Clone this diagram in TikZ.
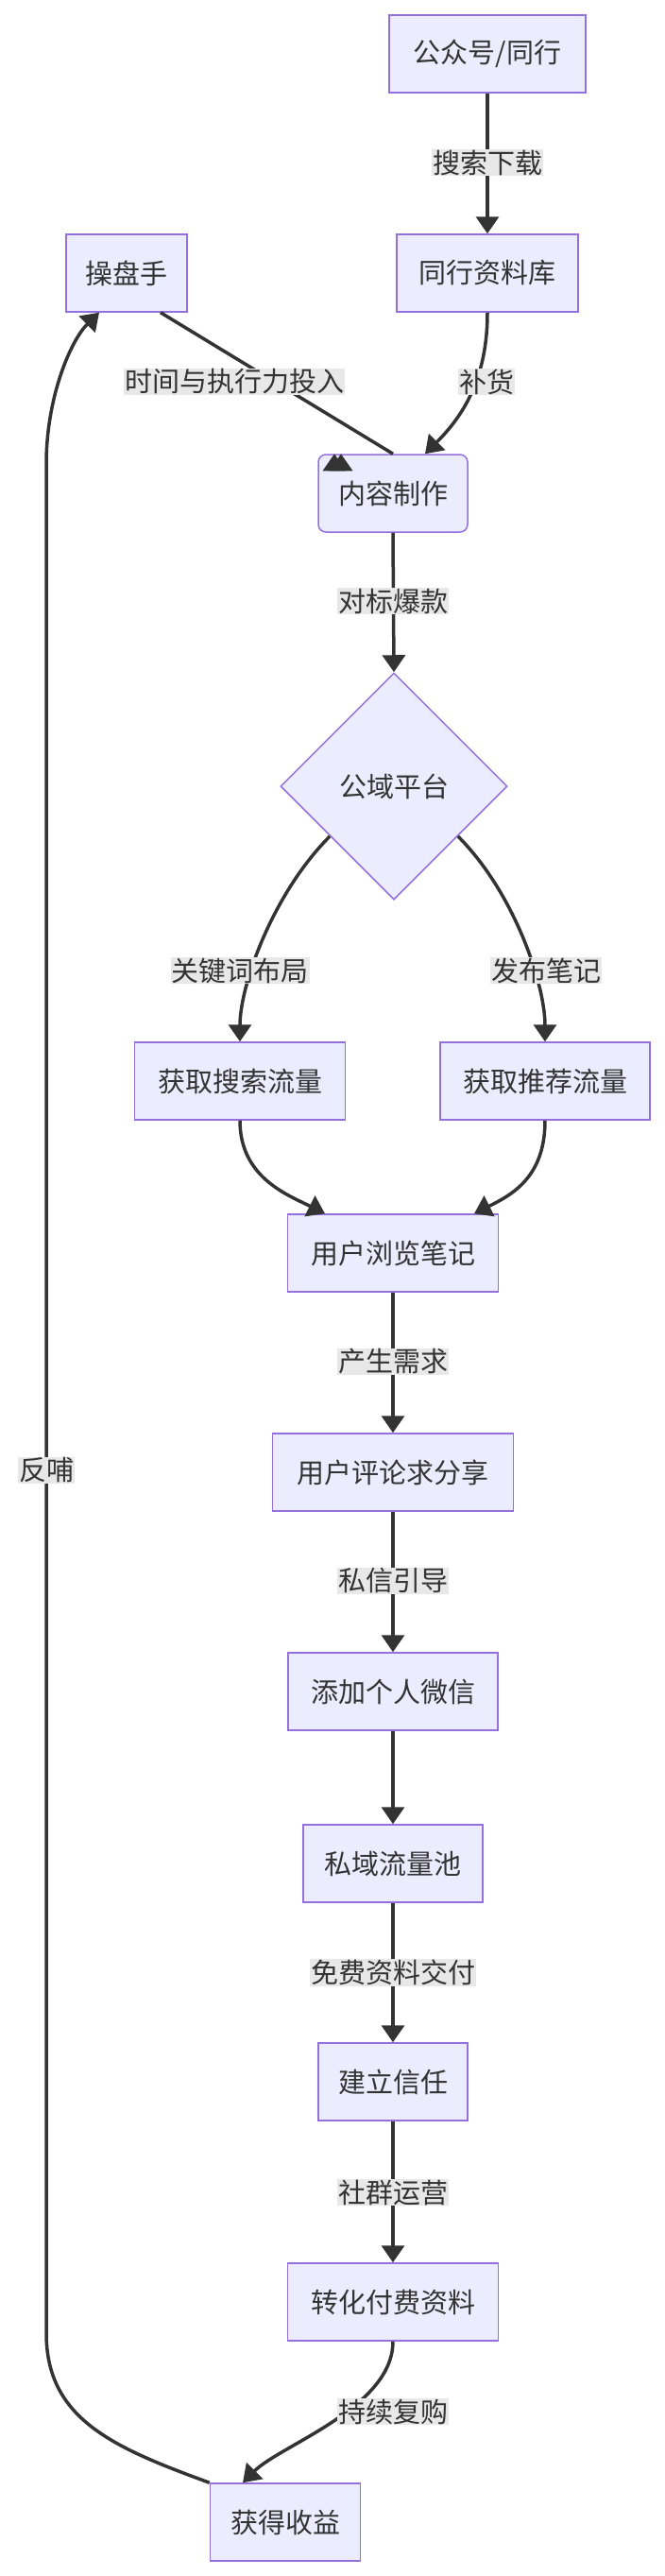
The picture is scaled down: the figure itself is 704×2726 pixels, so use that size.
\documentclass[tikz,border=0pt]{standalone}
\usepackage{fontspec}
\setmainfont{Noto Sans CJK SC}
\usetikzlibrary{shapes.geometric,arrows.meta}
\definecolor{nfill}{HTML}{ECECFF}
\definecolor{nborder}{HTML}{9370DB}
\definecolor{lbg}{HTML}{E8E8E8}
\definecolor{ink}{HTML}{333333}
\begin{document}
\begin{tikzpicture}[x=1pt,y=-1pt,
  box/.style={draw=nborder,fill=nfill,line width=1.5pt,text=ink,font=\fontsize{29}{32}\selectfont,inner sep=0pt,minimum height=82pt},
  dia/.style={diamond,draw=nborder,fill=nfill,line width=1.5pt,text=ink,font=\fontsize{29}{32}\selectfont,minimum width=240pt,minimum height=240pt,aspect=1.43,inner sep=0pt},
  lab/.style={fill=lbg,text=ink,font=\fontsize{29}{32}\selectfont,inner sep=1pt},
  edge/.style={draw=ink,line width=3.5pt,-{Triangle[length=18pt,width=24pt]}},
  plain/.style={draw=ink,line width=3.5pt}]
\useasboundingbox (0,0) rectangle (704,2726);
\node[box,minimum width=208pt] (gzh) at (516,57) {公众号/同行};
\node[box,minimum width=192pt] (lib) at (516,289) {同行资料库};
\node[box,minimum width=128pt] (pan) at (134,289) {操盘手};
\node[box,minimum width=158pt,rounded corners=8pt] (cnt) at (416,522) {内容制作};
\node[dia] (pub) at (417,832) {公域平台};
\node[box,minimum width=223pt] (ss) at (254,1144) {获取搜索流量};
\node[box,minimum width=222pt] (tj) at (577,1144) {获取推荐流量};
\node[box,minimum width=223pt] (ll) at (416,1326) {用户浏览笔记};
\node[box,minimum width=255pt] (pl) at (416,1558) {用户评论求分享};
\node[box,minimum width=222pt] (wx) at (416,1790) {添加个人微信};
\node[box,minimum width=190pt] (sy) at (416,1972) {私域流量池};
\node[box,minimum width=158pt] (xr) at (416,2203) {建立信任};
\node[box,minimum width=223pt] (zh) at (416,2436) {转化付费资料};
\node[box,minimum width=159pt] (sy2) at (302,2669) {获得收益};

\coordinate (loopA) at (49,2469);
\coordinate (loopB) at (49,491);

\draw[edge] (gzh.south) -- (lib.north);
\draw[edge] (pan.south) ++(36,0) -- (cnt.north) ++(-62,0);
\draw[edge] (pan.south) ++(36,0) coordinate (p1) (cnt.north) ++(-55,0) coordinate (p2);
\draw[edge] (lib.south) .. controls ++(0,70) and ++(40,-40) .. ([xshift=34pt]cnt.north);
\draw[edge] (cnt.south) -- (pub.north);
\draw[edge] (pub.-142) .. controls ++(-60,60) and ++(0,-60) .. (ss.north);
\draw[edge] (pub.-38) .. controls ++(60,60) and ++(0,-60) .. (tj.north);
\draw[edge] (ss.south) .. controls ++(0,60) and ++(-40,-20) .. ([xshift=-72pt]ll.north);
\draw[edge] (tj.south) .. controls ++(0,60) and ++(40,-20) .. ([xshift=86pt]ll.north);
\draw[edge] (ll.south) -- (pl.north);
\draw[edge] (pl.south) -- (wx.north);
\draw[edge] (wx.south) -- (sy.north);
\draw[edge] (sy.south) -- (xr.north);
\draw[edge] (xr.south) -- (zh.north);
\draw[edge] (zh.south) .. controls ++(0,70) and ++(40,-40) .. ([xshift=-45pt]sy2.north);
\draw[edge] (sy2.north west) .. controls (120,2590) and (49,2560) .. (loopA) -- (loopB) .. controls (49,420) and (75,360) .. ([xshift=-29pt]pan.south);

\node[lab] at (516,172) {搜索下载};
\node[lab] at (248,404) {时间与执行力投入};
\node[lab] at (515,404) {补货};
\node[lab] at (416,636) {对标爆款};
\node[lab] at (254,1027) {关键词布局};
\node[lab] at (578,1027) {发布笔记};
\node[lab] at (416,1441) {产生需求};
\node[lab] at (416,1673) {私信引导};
\node[lab] at (416,2087) {免费资料交付};
\node[lab] at (416,2320) {社群运营};
\node[lab] at (416,2552) {持续复购};
\node[lab] at (49,1556) {反哺};
\end{tikzpicture}
\end{document}
